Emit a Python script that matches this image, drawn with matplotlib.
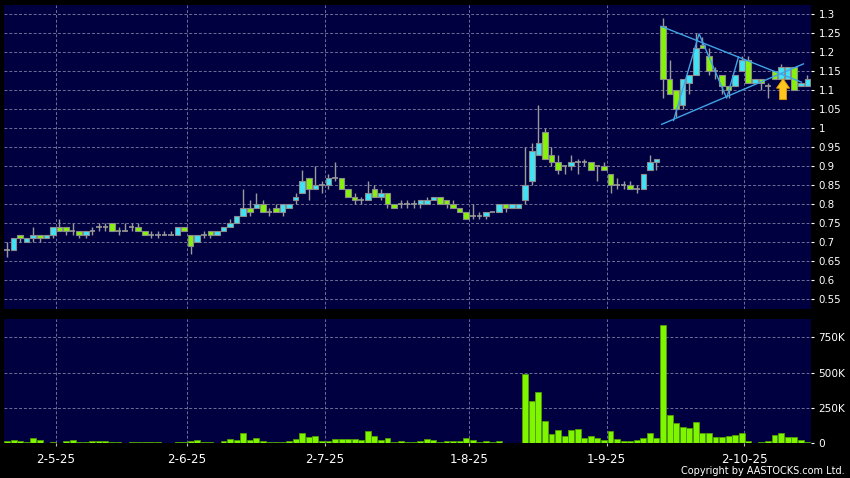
import matplotlib
matplotlib.use("Agg")
import matplotlib.pyplot as plt
from matplotlib.patches import FancyArrow
import numpy as np

# ---------------- data ----------------
opens = [0.68,0.68,0.72,0.70,0.71,0.72,0.71,0.72,0.74,0.74,
         0.73,0.73,0.72,0.73,0.74,0.74,0.75,0.73,0.73,0.74,
         0.74,0.73,0.72,0.72,0.72,0.72,0.72,0.74,0.72,0.70,
         0.72,0.73,0.72,0.73,0.74,0.75,0.77,0.79,0.79,0.80,
         0.78,0.79,0.78,0.79,0.81,0.83,0.87,0.84,0.85,0.85,
         0.87,0.87,0.84,0.82,0.81,0.81,0.84,0.82,0.83,0.80,
         0.80,0.80,0.80,0.80,0.80,0.81,0.82,0.81,0.80,0.79,
         0.78,0.77,0.77,0.77,0.78,0.78,0.80,0.79,0.79,0.81,
         0.86,0.93,0.99,0.93,0.91,0.90,0.90,0.91,0.91,0.91,
         0.90,0.90,0.88,0.85,0.85,0.85,0.84,0.84,0.89,0.91,
         1.27,1.13,1.10,1.06,1.12,1.14,1.22,1.19,1.15,1.14,
         1.11,1.11,1.15,1.18,1.12,1.13,1.11,1.15,1.13,1.13,
         1.16,1.11,1.11]
highs = [0.70,0.71,0.72,0.71,0.74,0.72,0.72,0.74,0.76,0.74,
         0.75,0.73,0.73,0.74,0.75,0.75,0.75,0.74,0.75,0.75,
         0.75,0.73,0.73,0.73,0.73,0.73,0.74,0.74,0.72,0.72,
         0.73,0.73,0.73,0.74,0.76,0.77,0.84,0.81,0.83,0.81,
         0.79,0.80,0.80,0.80,0.83,0.89,0.87,0.90,0.86,0.88,
         0.91,0.87,0.84,0.83,0.82,0.86,0.85,0.84,0.83,0.80,
         0.81,0.81,0.81,0.81,0.82,0.82,0.82,0.81,0.81,0.79,
         0.78,0.80,0.78,0.78,0.78,0.80,0.80,0.80,0.80,0.95,
         0.96,1.06,1.00,0.95,0.93,0.90,0.93,0.92,0.92,0.91,
         0.90,0.91,0.88,0.87,0.86,0.86,0.85,0.88,0.93,0.92,
         1.29,1.18,1.10,1.13,1.14,1.25,1.24,1.21,1.16,1.14,
         1.11,1.14,1.19,1.19,1.13,1.13,1.12,1.15,1.17,1.16,
         1.16,1.12,1.14]
lows = [0.66,0.68,0.70,0.70,0.70,0.70,0.71,0.71,0.73,0.72,
        0.72,0.71,0.71,0.72,0.73,0.73,0.73,0.72,0.73,0.73,
        0.73,0.72,0.71,0.71,0.72,0.72,0.72,0.73,0.67,0.70,
        0.71,0.71,0.72,0.73,0.74,0.75,0.77,0.77,0.79,0.78,
        0.77,0.78,0.77,0.79,0.80,0.83,0.81,0.84,0.83,0.84,
        0.86,0.84,0.82,0.80,0.80,0.81,0.82,0.81,0.79,0.79,
        0.79,0.79,0.79,0.79,0.80,0.81,0.80,0.79,0.79,0.78,
        0.76,0.76,0.76,0.76,0.78,0.78,0.78,0.79,0.79,0.80,
        0.85,0.93,0.92,0.90,0.88,0.88,0.89,0.88,0.90,0.89,
        0.86,0.89,0.83,0.84,0.84,0.84,0.83,0.84,0.89,0.89,
        1.08,1.09,1.03,1.05,1.09,1.14,1.21,1.14,1.13,1.09,
        1.08,1.11,1.15,1.12,1.12,1.10,1.08,1.13,1.13,1.13,
        1.10,1.11,1.11]
closes = [0.68,0.71,0.71,0.71,0.72,0.71,0.72,0.74,0.73,0.73,
          0.73,0.72,0.73,0.73,0.74,0.74,0.73,0.73,0.73,0.74,
          0.73,0.72,0.72,0.72,0.72,0.72,0.74,0.73,0.69,0.72,
          0.72,0.72,0.73,0.74,0.75,0.77,0.79,0.78,0.80,0.78,
          0.78,0.78,0.80,0.80,0.82,0.86,0.84,0.85,0.85,0.87,
          0.87,0.84,0.82,0.81,0.81,0.83,0.82,0.83,0.80,0.79,
          0.80,0.80,0.80,0.81,0.81,0.82,0.80,0.80,0.79,0.78,
          0.76,0.77,0.77,0.78,0.78,0.80,0.79,0.80,0.80,0.85,
          0.94,0.96,0.92,0.91,0.89,0.90,0.91,0.91,0.91,0.89,
          0.90,0.89,0.85,0.85,0.85,0.84,0.84,0.88,0.91,0.92,
          1.13,1.09,1.05,1.13,1.14,1.21,1.21,1.15,1.15,1.11,
          1.10,1.14,1.18,1.12,1.13,1.12,1.11,1.13,1.16,1.16,
          1.10,1.12,1.13]
volumes_k = [12,19,12,5,33,19,2,10,2,12,
             21,7,7,12,12,12,7,7,3,7,
             7,9,9,7,3,1,7,7,12,19,
             7,7,3,12,28,21,69,24,38,14,
             7,7,7,12,26,71,45,52,14,17,
             28,28,28,26,19,85,47,24,38,7,
             12,5,9,12,28,21,9,14,17,12,
             38,24,7,12,5,12,3,3,3,488,
             298,365,156,64,92,47,92,99,33,50,
             36,24,83,26,14,14,21,38,69,33,
             836,199,140,116,104,147,71,73,45,45,
             50,54,73,12,3,9,12,57,69,45,
             45,21,7]

date_tick_idx = [7, 27, 48, 70, 91, 112]
date_labels = ['2-5-25', '2-6-25', '2-7-25', '1-8-25', '1-9-25', '2-10-25']
price_ticks = [0.55,0.60,0.65,0.70,0.75,0.80,0.85,0.90,0.95,1.00,1.05,1.10,1.15,1.20,1.25,1.30]
price_labels = ['0.55','0.6','0.65','0.7','0.75','0.8','0.85','0.9','0.95','1','1.05','1.1','1.15','1.2','1.25','1.3']
vol_ticks_k = [0, 250, 500, 750]
vol_labels = ['0', '250K', '500K', '750K']

# triangle pattern lines (bar index, price)
upper_line_x = [99.7, 121.1]
upper_line_y = [1.268, 1.121]
lower_line_x = [99.8, 121.4]
lower_line_y = [1.010, 1.169]
zigzag_x = [101.6, 105.5, 109.7, 111.5]
zigzag_y = [1.020, 1.248, 1.079, 1.187]
arrow_x = 118.3
arrow_base = 1.075
arrow_tip = 1.130

# ---------------- style ----------------
BG = '#000040'
CYAN = '#3fe3f5'
GREEN = '#86f20a'
EDGE = '#8c8c8c'
WICK = '#9a9a9a'
GRID = '#6e6e98'
LINE = '#40a4e6'

o = np.array(opens); h = np.array(highs); l = np.array(lows); c = np.array(closes)
v = np.array(volumes_k) * 1000.0
x = np.arange(len(o))
grid_x = np.array(date_tick_idx) + 0.4

fig = plt.figure(figsize=(8.5, 4.78), dpi=100, facecolor='black')
axp = fig.add_axes([4/850, 1-309/478, (811-4)/850, (309-5)/478])
axv = fig.add_axes([4/850, 1-443/478, (811-4)/850, (443-319)/478])

for ax in (axp, axv):
    ax.set_facecolor(BG)
    for s in ax.spines.values():
        s.set_visible(False)
    ax.set_xlim(-0.46, 122.56)
    for gx in grid_x:
        ax.axvline(gx, color=GRID, lw=0.7, dashes=(3, 2), zorder=1)

# price panel
for py in price_ticks:
    axp.axhline(py, color=GRID, lw=0.7, dashes=(3, 2), zorder=1)
axp.set_ylim(0.524, 1.324)
axp.vlines(x, l, h, color=WICK, lw=1.0, zorder=2)
up = c > o
dn = c < o
eq = c == o
body_w = 0.85
axp.bar(x[up], (c - o)[up], bottom=o[up], width=body_w, color=CYAN,
        edgecolor=EDGE, linewidth=0.8, zorder=3)
axp.bar(x[dn], (o - c)[dn], bottom=c[dn], width=body_w, color=GREEN,
        edgecolor=EDGE, linewidth=0.8, zorder=3)
axp.hlines(o[eq], x[eq] - body_w/2, x[eq] + body_w/2, color=WICK, lw=1.2, zorder=3)

axp.plot(upper_line_x, upper_line_y, color=LINE, lw=1.0, zorder=4)
axp.plot(lower_line_x, lower_line_y, color=LINE, lw=1.0, zorder=4)
axp.plot(zigzag_x, zigzag_y, color=LINE, lw=1.0, zorder=4)
axp.add_patch(FancyArrow(arrow_x, arrow_base, 0, arrow_tip - arrow_base,
                         width=1.05, head_width=2.0, head_length=0.025,
                         length_includes_head=True, facecolor='#ffc61e',
                         edgecolor='#e89a00', linewidth=0.6, zorder=5))

axp.yaxis.tick_right()
axp.set_yticks(price_ticks)
axp.set_yticklabels(price_labels)
axp.tick_params(axis='y', colors='white', labelcolor='white', length=2.5,
                width=0.8, pad=3, labelsize=7.4)
axp.set_xticks([])

# volume panel
for vy in vol_ticks_k[1:]:
    axv.axhline(vy * 1000, color=GRID, lw=0.7, dashes=(3, 2), zorder=1)
axv.set_ylim(0, 881000)
axv.bar(x, v, width=0.9, color='#7ff500', edgecolor='#4f9e00', linewidth=0.6, zorder=3)
axv.yaxis.tick_right()
axv.set_yticks([t * 1000 for t in vol_ticks_k])
axv.set_yticklabels(vol_labels)
axv.tick_params(axis='y', colors='white', labelcolor='white', length=2.5,
                width=0.8, pad=3, labelsize=7.6)
axv.set_xticks(grid_x)
axv.set_xticklabels(date_labels)
axv.tick_params(axis='x', colors='#bbbbbb', labelcolor='white', length=2.5,
                width=0.8, pad=5, labelsize=8.6)

fig.text(845/850, 1 - 471.5/478, 'Copyright by AASTOCKS.com Ltd.', color='white',
         ha='right', va='center', fontsize=7.0)

fig.savefig('out.png', dpi=100, facecolor='black')
